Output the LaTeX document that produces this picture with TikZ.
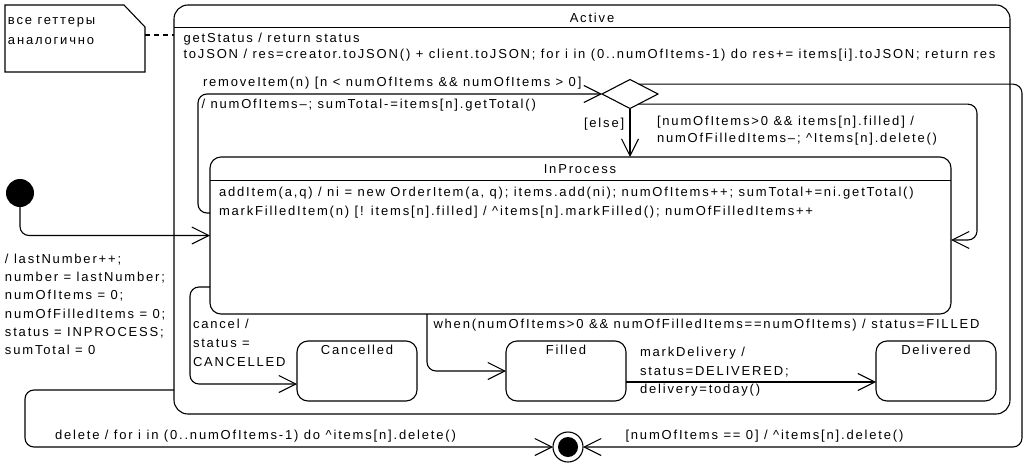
\documentclass[tikz,border=0pt]{standalone}
\usepackage{fontspec}
\setmainfont[LetterSpace=14]{Liberation Sans}
\usetikzlibrary{arrows.meta,shapes.geometric,calc}
\newcommand\capstrut{\rule{0pt}{9.3pt}}
\begin{document}
\begin{tikzpicture}[x=1pt,y=-1pt,line width=1.1pt,
  every node/.style={inner sep=0pt,outer sep=0pt,font=\fontsize{13}{15}\selectfont},
  stbox/.style={draw,rounded corners=11pt,anchor=north west,minimum width=120pt,minimum height=60pt},
  tr/.style={draw,rounded corners=9pt,-{Straight Barb[length=17pt,width=17pt]}},
  lbl/.style={align=left,anchor=north west},
  ttl/.style={anchor=base}]
\fill[white] (0,0) rectangle (1030,471);
\useasboundingbox (0,0) rectangle (1030,471);

% note
\draw (5,5) -- (124,5) -- (145,27) -- (145,72) -- (5,72) -- cycle;
\node[lbl,font=\fontsize{13}{20}\selectfont] (notetxt) at (8,14.7) {\capstrut все геттеры\\аналогично};
\coordinate (noteR) at (145,35);

% states
\node[stbox,minimum width=836pt,minimum height=409pt,rounded corners=14pt] (active) at (174,5) {};
\draw ([yshift=-22.5pt]active.north west) -- ([yshift=-22.5pt]active.north east);
\node[ttl] (actlbl) at (592,22) {Active};
\draw[dash pattern=on 5pt off 4pt] (noteR) -- (noteR -| active.west);

\node[stbox,minimum width=741pt,minimum height=157pt] (inproc) at (210,157) {};
\draw ([yshift=-23.5pt]inproc.north west) -- ([yshift=-23.5pt]inproc.north east);
\node[ttl] (iplbl) at (580,173) {InProcess};

\node[stbox] (canc) at (297,341) {};
\node[ttl] (canclbl) at (357,354.5) {Cancelled};
\node[stbox] (filled) at (506,341) {};
\node[ttl] (filledlbl) at (566,354.8) {Filled};
\node[stbox] (deliv) at (876,341) {};
\node[ttl] (delivlbl) at (936,354.8) {Delivered};

\node[draw,diamond,minimum width=56pt,minimum height=29pt] (dia) at (630,94) {};
\node[circle,fill,minimum size=28pt] (init) at (20,193) {};
\node[circle,draw,minimum size=30pt] (fin) at (568,447) {};
\node[circle,fill,minimum size=20pt] (fincore) at (fin.center) {};

\coordinate (dtr) at ($(dia.north)!0.32!(dia.east)$);
\coordinate (dbr) at ($(dia.south)!0.3!(dia.east)$);
\coordinate (rb) at (1022,447);
\coordinate (lb) at (25,447);

% texts
\node[lbl,font=\fontsize{13}{15.5}\selectfont] (acttxt) at (183.5,33.5) {\capstrut getStatus / return status\\toJSON / res=creator.toJSON() + client.toJSON; for i in (0..numOfItems-1) do res+= items[i].toJSON; return res};
\node[lbl] (remlbl) at (203,77.5) {\capstrut removeItem(n) [n < numOfItems \&\& numOfItems > 0]};
\node[lbl] (remact) at (201.5,99) {\capstrut / numOfItems–; sumTotal-=items[n].getTotal()};
\node[lbl,font=\fontsize{13}{18.4}\selectfont] (iptxt) at (219,187.3) {\capstrut addItem(a,q) / ni = new OrderItem(a, q); items.add(ni); numOfItems++; sumTotal+=ni.getTotal()\\markFilledItem(n) [! items[n].filled] / \textasciicircum items[n].markFilled(); numOfFilledItems++};
\node[lbl,font=\fontsize{13}{18.2}\selectfont] (initlbl) at (5,254) {\capstrut / lastNumber++;\\number = lastNumber;\\numOfItems = 0;\\numOfFilledItems = 0;\\status = INPROCESS;\\sumTotal = 0};
\node[lbl] (elselbl) at (584,118) {\capstrut [else]};
\node[lbl,font=\fontsize{13}{16.5}\selectfont] (fillbl) at (657,116.5) {\capstrut [numOfItems>0 \&\& items[n].filled] /\\numOfFilledItems–; \textasciicircum Items[n].delete()};
\node[lbl,font=\fontsize{13}{18.7}\selectfont] (cancl) at (193,319.5) {\capstrut cancel /\\status =\\CANCELLED};
\node[lbl] (whenlbl) at (433.5,319.5) {\capstrut when(numOfItems>0 \&\& numOfFilledItems==numOfItems) / status=FILLED};
\node[lbl,font=\fontsize{13}{18.7}\selectfont] (mdlbl) at (640,347) {\capstrut markDelivery /\\status=DELIVERED;\\delivery=today()};
\node[lbl] (zerolbl) at (625.5,430.5) {\capstrut [numOfItems == 0] / \textasciicircum items[n].delete()};
\node[lbl] (dellbl) at (55,430) {\capstrut delete / for i in (0..numOfItems-1) do \textasciicircum items[n].delete()};

% transitions
\draw[tr] (init.south) |- (inproc.west);
\draw[tr] ([yshift=22.5pt]inproc.west) -- ++(-12,0) |- (dia.west);
\draw[tr] (dia.south) -- (dia.south |- inproc.north);
\draw[tr] (dbr) -| ([xshift=26pt,yshift=-4.5pt]inproc.east) -- ([yshift=-4.5pt]inproc.east);
\draw[tr] (dtr) -| (rb) -- (fin.east);
\draw[tr] ([yshift=-180.5pt]active.west) -| (lb) -- (fin.west);
\draw[tr] ([yshift=-51.5pt]inproc.west) -- ++(-20,0) |- ([yshift=-13pt]canc.west);
\draw[tr] ([xshift=-153.5pt]inproc.south) |- (filled.west);
\draw[tr] ([yshift=-11pt]filled.east) -- ([yshift=-11pt]deliv.west);
\end{tikzpicture}
\end{document}
